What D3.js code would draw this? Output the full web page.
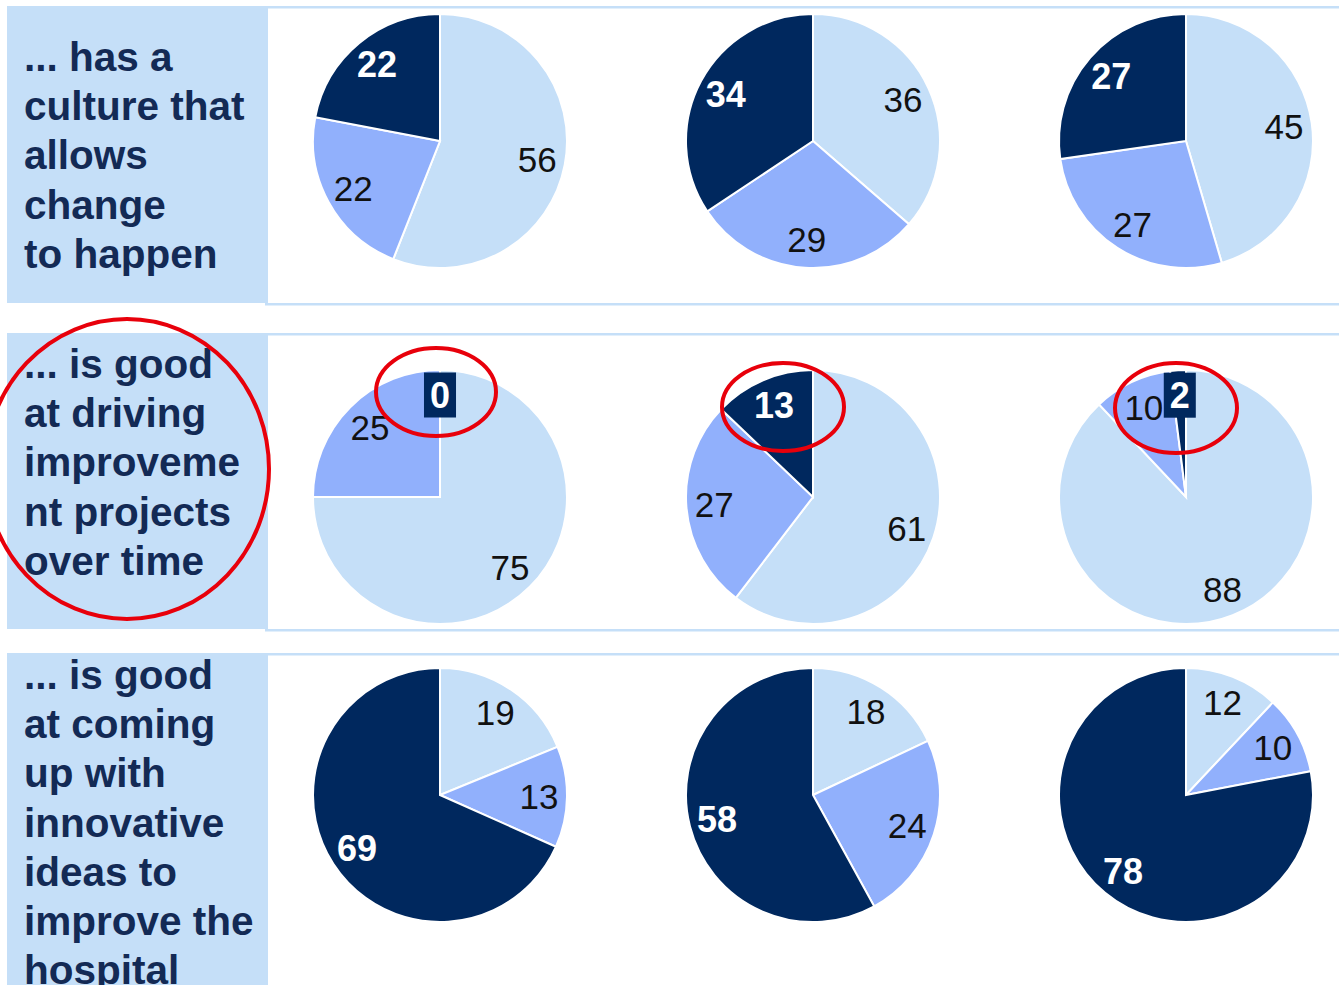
<!DOCTYPE html>
<html><head><meta charset="utf-8">
<script src="https://cdn.jsdelivr.net/npm/d3@7"></script>
<style>html,body{margin:0;padding:0;background:#fff;overflow:hidden}</style>
</head><body>
<svg id="c" width="1339" height="985"></svg>
<script>
// ---- data ----
const rowLabels = [
  ["... has a", "culture that", "allows", "change", "to happen"],
  ["... is good", "at driving", "improveme", "nt projects", "over time"],
  ["... is good", "at coming", "up with", "innovative", "ideas to", "improve the", "hospital"]
];
const columns = [0, 1, 2];
const lightValues  = [[56, 36, 45], [75, 61, 88], [19, 18, 12]];
const mediumValues = [[22, 29, 27], [25, 27, 10], [13, 24, 10]];
const darkValues   = [[22, 34, 27], [0, 13, 2], [69, 58, 78]];

// ---- layout ----
const W = 1339, H = 985;
const colors = {light: "#c5dff8", medium: "#91b0fc", dark: "#00285e"};
const panelBg = "#c5dff8";
const rowPanels = [[6, 303], [333, 629], [653, 985]];
const rowTextTop = [71, 378, 689];
const rowCenters = [141, 497, 795];
const R = 127;

const svg = d3.select("#c");
const x = d3.scaleBand().domain(columns).range([253.5, 1372.5]);

rowPanels.forEach((p, i) => {
  svg.append("rect").attr("x", 7).attr("y", p[0]).attr("width", 261).attr("height", p[1] - p[0]).attr("fill", panelBg);
  svg.append("rect").attr("x", 265).attr("y", p[0]).attr("width", W - 265).attr("height", 2.5).attr("fill", panelBg);
  if (i < 2) svg.append("rect").attr("x", 265).attr("y", p[1]).attr("width", W - 265).attr("height", 2.5).attr("fill", panelBg);
  const t = svg.append("text").attr("font-family", "Liberation Sans, Arial, sans-serif")
    .attr("font-weight", "bold").attr("font-size", 40.5).attr("fill", "#132a55");
  rowLabels[i].forEach((line, k) => {
    t.append("tspan").attr("x", 24).attr("y", rowTextTop[i] + k * 49.2).text(line);
  });
});

const pie = d3.pie().sort(null).value(d => d.v).startAngle(0).endAngle(2 * Math.PI);
const arc = d3.arc().innerRadius(0).outerRadius(R);
const labelArc = d3.arc().innerRadius(99).outerRadius(99);

rowCenters.forEach((cy, i) => {
  columns.forEach(j => {
    const data = [
      {k: "light", v: lightValues[i][j]},
      {k: "medium", v: mediumValues[i][j]},
      {k: "dark", v: darkValues[i][j]}
    ];
    const cx = x(j) + x.bandwidth() / 2;
    const g = svg.append("g").attr("transform", `translate(${cx},${cy})`);
    const arcs = pie(data);
    g.selectAll("path").data(arcs).join("path")
      .attr("d", arc).attr("fill", d => colors[d.data.k])
      .attr("stroke", "#fff").attr("stroke-width", d => d.data.v > 0 ? 2 : 0);
    arcs.forEach(a => {
      let [lx, ly] = labelArc.centroid(a);
      const isDark = a.data.k === "dark";
      if (isDark && a.data.v < 5) { ly -= 3; }
      const txt = g.append("text").attr("x", lx).attr("y", ly)
        .attr("text-anchor", "middle").attr("dominant-baseline", "central")
        .attr("font-family", "Liberation Sans, Arial, sans-serif")
        .attr("font-size", isDark ? 36 : 35)
        .attr("font-weight", isDark ? "bold" : "normal")
        .attr("fill", isDark ? "#fff" : "#111")
        .text(a.data.v);
      if (isDark && a.data.v < 5) {
        const bb = txt.node().getBBox();
        g.insert("rect", "text").attr("x", bb.x - 6).attr("y", bb.y - 2)
          .attr("width", bb.width + 12).attr("height", bb.height + 4)
          .attr("fill", colors.dark);
      }
    });
  });
});

// ---- red annotation ellipses ----
const ann = [
  {cx: 127, cy: 469, rx: 142, ry: 150},
  {cx: 436, cy: 392, rx: 60, ry: 44},
  {cx: 783, cy: 407, rx: 61, ry: 44},
  {cx: 1176, cy: 408, rx: 61, ry: 45}
];
svg.selectAll("ellipse.ann").data(ann).join("ellipse").attr("class", "ann")
  .attr("cx", d => d.cx).attr("cy", d => d.cy).attr("rx", d => d.rx).attr("ry", d => d.ry)
  .attr("fill", "none").attr("stroke", "#e8000b").attr("stroke-width", 4);
</script>
</body></html>
